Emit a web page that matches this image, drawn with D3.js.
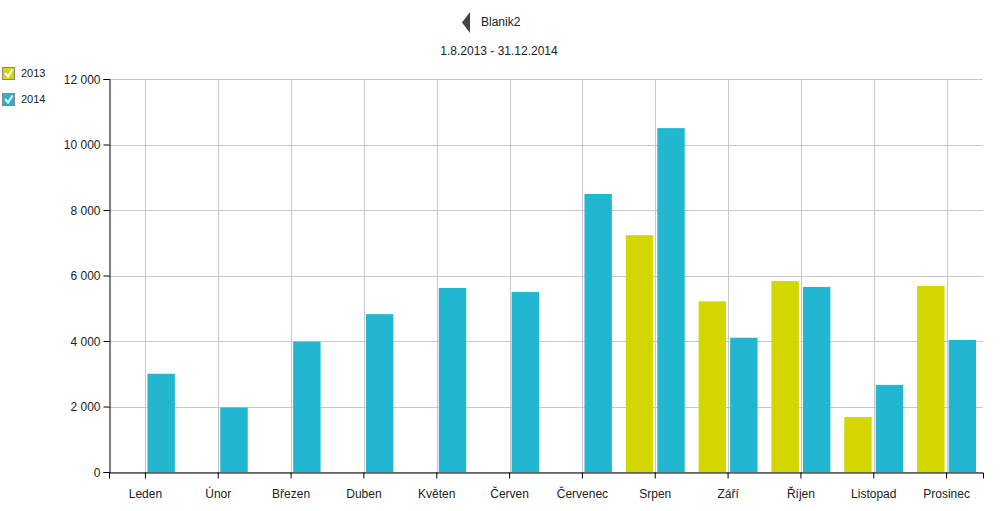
<!DOCTYPE html>
<html><head><meta charset="utf-8">
<script src="https://cdn.jsdelivr.net/npm/d3@7"></script>
<style>body{margin:0;background:#fff;font-family:"Liberation Sans",Arial,sans-serif;}</style>
</head><body>
<svg id="c" width="1000" height="511"></svg>
<script>
const months = ["Leden","Únor","Březen","Duben","Květen","Červen","Červenec","Srpen","Září","Říjen","Listopad","Prosinec"];
const seriesNames = ["2013","2014"];
const values2013 = [null,null,null,null,null,null,null,7230,5210,5830,1680,5680];
const values2014 = [3000,1970,3980,4820,5620,5500,8490,10500,4100,5650,2660,4030];
const yTicks = [0,2000,4000,6000,8000,10000,12000];
const colors = {"2013":"#d4d600","2014":"#22b6d1"};
const title = "Blanik2";
const subtitle = "1.8.2013 - 31.12.2014";

const svg = d3.select("#c");
const L=109,R=983,T=79,B=472;
const x0 = d3.scaleBand().domain(months).range([L,R]).padding(0);
const x1 = d3.scaleBand().domain(seriesNames).range([0,x0.bandwidth()]).paddingInner(0.13).paddingOuter(0.22);
const y = d3.scaleLinear().domain([0,12000]).range([B,T]);
const fmt = v => d3.format(",")(v).replace(/,/g," ");

// grid
const g = svg.append("g");
g.selectAll("line.h").data(yTicks).join("line")
 .attr("x1",L).attr("x2",R).attr("y1",d=>Math.round(y(d))+0.5).attr("y2",d=>Math.round(y(d))+0.5)
 .attr("stroke","#c8c8c8").attr("stroke-width",1);
g.selectAll("line.v").data(months).join("line")
 .attr("x1",d=>Math.round(x0(d)+x0.bandwidth()/2)+0.5).attr("x2",d=>Math.round(x0(d)+x0.bandwidth()/2)+0.5)
 .attr("y1",T).attr("y2",B).attr("stroke","#c8c8c8").attr("stroke-width",1);

// bars
const data = [];
months.forEach((m,i)=>{
  if(values2013[i]!=null) data.push({m,s:"2013",v:values2013[i]});
  if(values2014[i]!=null) data.push({m,s:"2014",v:values2014[i]});
});
svg.append("g").selectAll("rect").data(data).join("rect")
 .attr("x",d=>x0(d.m)+x1(d.s)).attr("width",x1.bandwidth())
 .attr("y",d=>y(d.v)).attr("height",d=>B-y(d.v))
 .attr("fill",d=>colors[d.s]);

// axes
const yAxis = svg.append("g").attr("transform",`translate(${L+0.5},0)`)
 .call(d3.axisLeft(y).tickValues(yTicks).tickFormat(fmt).tickSizeOuter(0).tickSize(6).tickPadding(3));
const xAxis = svg.append("g").attr("transform",`translate(0,${B+0.5})`)
 .call(d3.axisBottom(x0).tickSizeOuter(0).tickSize(6).tickPadding(11));
[yAxis,xAxis].forEach(a=>{
  a.select(".domain").attr("stroke","#000");
  a.selectAll(".tick line").attr("stroke","#000");
  a.selectAll("text").attr("fill","#222").style("font-family","'Liberation Sans',Arial,sans-serif").style("font-size","12px");
});
yAxis.selectAll(".tick text").attr("dy","0.35em");

// title
svg.append("path").attr("d","M470,12 L470,33 L462,22.5 Z").attr("fill","#444");
svg.append("text").attr("x",481).attr("y",26).text(title)
 .style("font-size","12px").attr("fill","#222");
svg.append("text").attr("x",499).attr("y",55).attr("text-anchor","middle").text(subtitle)
 .style("font-size","12px").attr("fill","#222");

// legend
const lg = svg.append("g").selectAll("g").data(seriesNames).join("g")
 .attr("transform",(d,i)=>`translate(2,${67+i*26})`);
lg.append("rect").attr("x",0.5).attr("y",0.5).attr("width",12).attr("height",12)
 .attr("fill",d=>colors[d]).attr("stroke","#888").attr("stroke-width",1);
lg.append("path").attr("d","M3,6 L6,9.5 L10.5,2.5").attr("fill","none").attr("stroke","#fff").attr("stroke-width",2);
lg.append("text").attr("x",19).attr("y",10).text(d=>d)
 .style("font-size","11px").attr("fill","#222");
</script>
</body></html>
